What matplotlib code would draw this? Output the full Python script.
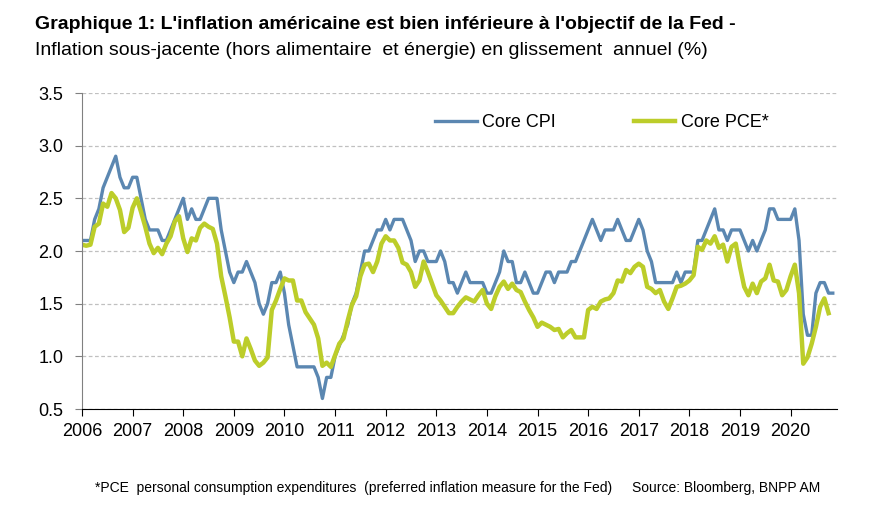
import numpy as np
import matplotlib.pyplot as plt

# Core CPI y/y (%), monthly Jan 2006 - Nov 2020
cpi = [2.1, 2.1, 2.1, 2.3, 2.4, 2.6, 2.7, 2.8, 2.9, 2.7, 2.6, 2.6,
       2.7, 2.7, 2.5, 2.3, 2.2, 2.2, 2.2, 2.1, 2.1, 2.2, 2.3, 2.4,
       2.5, 2.3, 2.4, 2.3, 2.3, 2.4, 2.5, 2.5, 2.5, 2.2, 2.0, 1.8,
       1.7, 1.8, 1.8, 1.9, 1.8, 1.7, 1.5, 1.4, 1.5, 1.7, 1.7, 1.8,
       1.6, 1.3, 1.1, 0.9, 0.9, 0.9, 0.9, 0.9, 0.8, 0.6, 0.8, 0.8,
       1.0, 1.1, 1.2, 1.3, 1.5, 1.6, 1.8, 2.0, 2.0, 2.1, 2.2, 2.2,
       2.3, 2.2, 2.3, 2.3, 2.3, 2.2, 2.1, 1.9, 2.0, 2.0, 1.9, 1.9,
       1.9, 2.0, 1.9, 1.7, 1.7, 1.6, 1.7, 1.8, 1.7, 1.7, 1.7, 1.7,
       1.6, 1.6, 1.7, 1.8, 2.0, 1.9, 1.9, 1.7, 1.7, 1.8, 1.7, 1.6,
       1.6, 1.7, 1.8, 1.8, 1.7, 1.8, 1.8, 1.8, 1.9, 1.9, 2.0, 2.1,
       2.2, 2.3, 2.2, 2.1, 2.2, 2.2, 2.2, 2.3, 2.2, 2.1, 2.1, 2.2,
       2.3, 2.2, 2.0, 1.9, 1.7, 1.7, 1.7, 1.7, 1.7, 1.8, 1.7, 1.8,
       1.8, 1.8, 2.1, 2.1, 2.2, 2.3, 2.4, 2.2, 2.2, 2.1, 2.2, 2.2,
       2.2, 2.1, 2.0, 2.1, 2.0, 2.1, 2.2, 2.4, 2.4, 2.3, 2.3, 2.3,
       2.3, 2.4, 2.1, 1.4, 1.2, 1.2, 1.6, 1.7, 1.7, 1.6, 1.6]

# Core PCE y/y (%), monthly Jan 2006 - Oct 2020
pce = [2.06, 2.05, 2.06, 2.23, 2.26, 2.45, 2.42, 2.55, 2.50, 2.39, 2.18, 2.22,
       2.41, 2.50, 2.37, 2.23, 2.07, 1.98, 2.03, 1.97, 2.07, 2.14, 2.28, 2.33,
       2.12, 1.99, 2.12, 2.10, 2.22, 2.26, 2.23, 2.21, 2.07, 1.76, 1.57, 1.37,
       1.14, 1.14, 1.00, 1.17, 1.07, 0.96, 0.91, 0.94, 0.99, 1.44, 1.53, 1.64,
       1.74, 1.72, 1.72, 1.53, 1.53, 1.42, 1.36, 1.30, 1.17, 0.91, 0.94, 0.90,
       1.01, 1.12, 1.17, 1.34, 1.49, 1.57, 1.76, 1.87, 1.88, 1.80, 1.90, 2.07,
       2.14, 2.10, 2.10, 2.03, 1.89, 1.87, 1.80, 1.66, 1.72, 1.90, 1.80, 1.69,
       1.58, 1.53, 1.47, 1.41, 1.41, 1.47, 1.52, 1.56, 1.54, 1.52, 1.58, 1.63,
       1.50, 1.45, 1.57, 1.66, 1.71, 1.64, 1.69, 1.63, 1.61, 1.52, 1.44, 1.37,
       1.28, 1.32, 1.30, 1.28, 1.25, 1.26, 1.18, 1.22, 1.25, 1.18, 1.18, 1.18,
       1.44, 1.47, 1.45, 1.52, 1.54, 1.55, 1.60, 1.72, 1.71, 1.82, 1.79, 1.85,
       1.88, 1.85, 1.66, 1.64, 1.60, 1.63, 1.52, 1.45, 1.55, 1.66, 1.67, 1.69,
       1.72, 1.77, 2.04, 2.01, 2.10, 2.07, 2.14, 2.03, 2.06, 1.90, 2.04, 2.07,
       1.85, 1.66, 1.58, 1.69, 1.60, 1.71, 1.74, 1.87, 1.72, 1.71, 1.58, 1.63,
       1.76, 1.87, 1.60, 0.93, 0.99, 1.12, 1.28, 1.47, 1.55, 1.41]

years = list(range(2006, 2021))
yticks = [0.5, 1.0, 1.5, 2.0, 2.5, 3.0, 3.5]

x_cpi = 2006 + np.arange(len(cpi)) / 12
x_pce = 2006 + np.arange(len(pce)) / 12

blue = '#5b87b1'
green = '#bccd2a'
plt.rcParams['font.family'] = ['Liberation Sans', 'DejaVu Sans']

fig = plt.figure(figsize=(8.78, 5.15), dpi=100)
ax = fig.add_axes([82/878, 1-409/515, (837-82)/878, (409-93)/515])

ax.plot(x_cpi, cpi, color=blue, lw=2.4, label='Core CPI', solid_joinstyle='round')
ax.plot(x_pce, pce, color=green, lw=3.2, label='Core PCE*', solid_joinstyle='round')

ax.set_xlim(2006, 2006 + 179/12)
ax.set_ylim(0.5, 3.5)
ax.set_yticks(yticks)
ax.set_yticklabels(['%.1f' % v for v in yticks])
ax.set_xticks(years)
ax.set_xticklabels([str(y) for y in years])
ax.grid(axis='y', color='#c0c0c0', ls=(0, (3, 2)), lw=0.9)
ax.set_axisbelow(True)
for s in ['top', 'right']:
    ax.spines[s].set_visible(False)
ax.spines['left'].set_color('#808080')
ax.spines['bottom'].set_color('black')
ax.tick_params(axis='y', length=5, color='#808080', labelsize=13, pad=8.5)
ax.tick_params(axis='x', length=5, color='black', labelsize=13, pad=5)

fig.legend(loc='center', bbox_to_anchor=(602/878, 1-123/515), ncol=2,
           frameon=False, fontsize=13, handlelength=2.3, handletextpad=0.3,
           columnspacing=4.3)

fig.text(35/878, 1-29/515, "Graphique 1: L'inflation américaine est bien inférieure à l'objectif de la Fed -",
         fontsize=14, fontweight='bold', va='baseline')
fig.text(35/878, 1-55/515, "Inflation sous-jacente (hors alimentaire  et énergie) en glissement  annuel (%)",
         fontsize=14, va='baseline')
fig.text(95/878, 1-492/515, "*PCE  personal consumption expenditures  (preferred inflation measure for the Fed)",
         fontsize=10, va='baseline')
fig.text(632/878, 1-492/515, "Source: Bloomberg, BNPP AM",
         fontsize=10, va='baseline')

fig.savefig('out.png', dpi=100)
